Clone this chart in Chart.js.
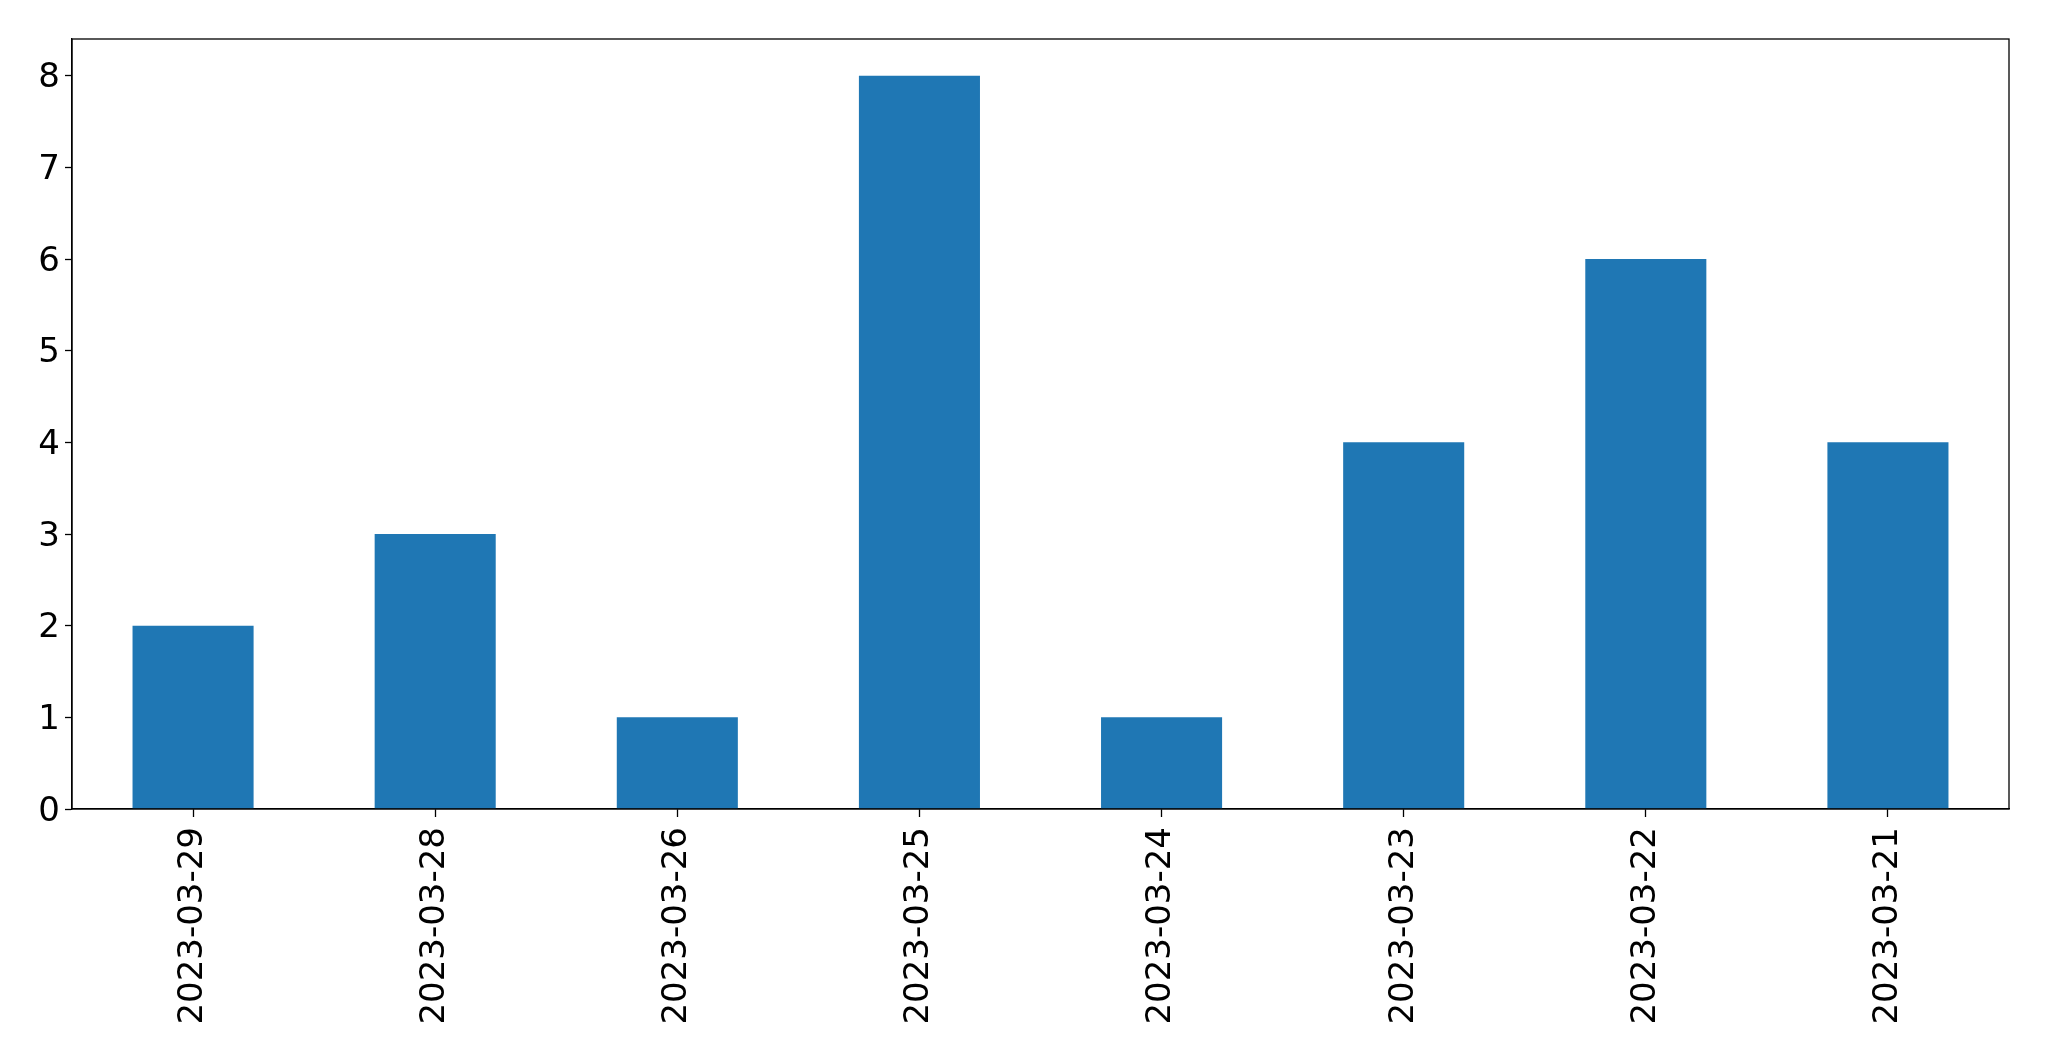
<!DOCTYPE html>
<html>
<head>
<meta charset="utf-8">
<script src="https://cdn.jsdelivr.net/npm/chart.js@4"></script>
<style>
html,body{margin:0;padding:0;background:#fff;}
#wrap{width:2049px;height:1061px;position:relative;}
</style>
</head>
<body>
<div id="wrap"><canvas id="c" width="2049" height="1061"></canvas></div>
<script>
const categories = ["2023-03-29","2023-03-28","2023-03-26","2023-03-25","2023-03-24","2023-03-23","2023-03-22","2023-03-21"];
const counts = [2,3,1,8,1,4,6,4];
const yTicks = [0,1,2,3,4,5,6,7,8];

const frame = {
  id:'frame',
  afterDatasetsDraw(chart){
    const {ctx, chartArea:a} = chart;
    ctx.save();
    ctx.strokeStyle='#000';
    ctx.lineWidth=1.3;
    ctx.strokeRect(a.left, a.top, a.right-a.left, a.bottom-a.top);
    ctx.restore();
  }
};

new Chart(document.getElementById('c'), {
  type:'bar',
  data:{labels:categories, datasets:[{data:counts, backgroundColor:'#1f77b4', barPercentage:0.5, categoryPercentage:1.0}]},
  options:{
    responsive:false, animation:false,
    layout:{padding:{left:0,top:39,right:40,bottom:0}},
    plugins:{legend:{display:false}, tooltip:{enabled:false}},
    scales:{
      x:{
        grid:{display:true, offset:false, drawOnChartArea:false, drawTicks:true, tickLength:8, color:'#000', tickWidth:1.3},
        border:{display:true, color:'#000', width:1.3},
        ticks:{color:'#000', font:{family:'DejaVu Sans', size:34}, maxRotation:90, minRotation:90, padding:10},
        afterFit(s){ s.height = 1061-809; }
      },
      y:{
        min:0, max:8.4,
        grid:{display:true, drawOnChartArea:false, drawTicks:true, tickLength:7, color:'#000', tickWidth:1.3},
        border:{display:true, color:'#000', width:1.3},
        ticks:{color:'#000', font:{family:'DejaVu Sans', size:34}, padding:5, labelOffset:3},
        afterBuildTicks(s){ s.ticks = yTicks.map(v=>({value:v})); },
        afterFit(s){ s.width = 72; }
      }
    }
  },
  plugins:[frame]
});
</script>
</body>
</html>
